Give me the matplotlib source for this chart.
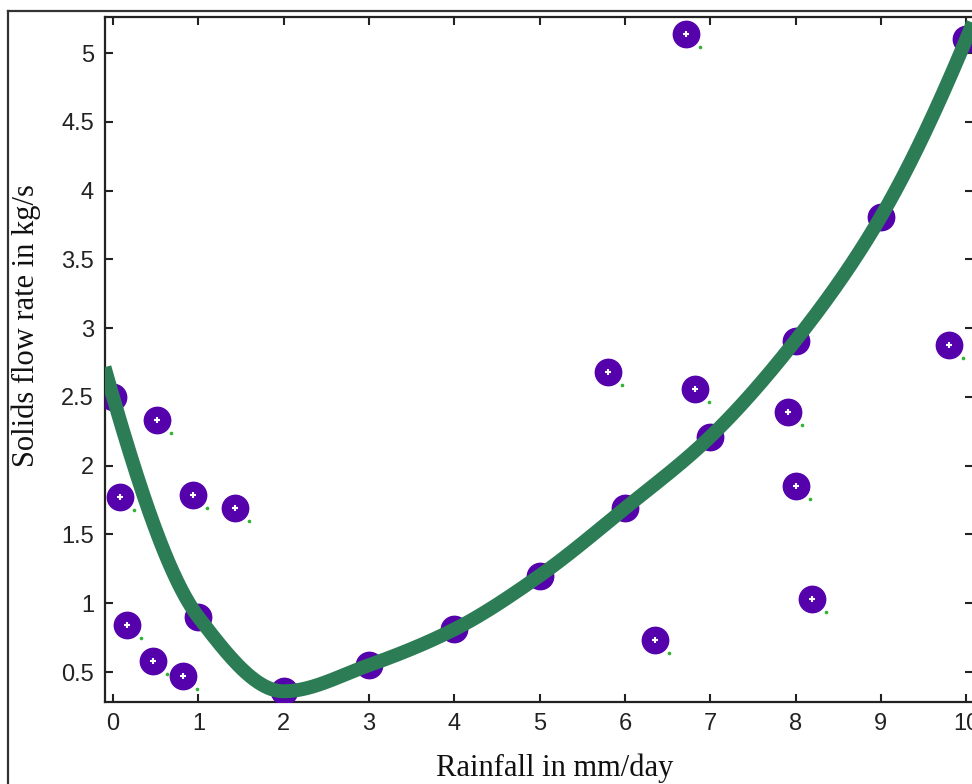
import numpy as np
import matplotlib
matplotlib.use("Agg")
import matplotlib.pyplot as plt
import matplotlib.transforms as mtransforms
from matplotlib.lines import Line2D

# ---- data ----
fit_x = [0, 1, 2, 3, 4, 5, 6, 7, 8, 9, 10]
fit_y = [2.50, 0.90, 0.36, 0.55, 0.81, 1.20, 1.69, 2.21, 2.91, 3.81, 5.10]
scatter_x = [0.08, 0.16, 0.47, 0.52, 0.82, 0.94, 1.43, 5.80, 6.35, 6.72, 6.82, 7.91, 8.01, 8.19, 9.80]
scatter_y = [1.77, 0.84, 0.58, 2.33, 0.47, 1.79, 1.69, 2.68, 0.73, 5.14, 2.56, 2.39, 1.85, 1.03, 2.88]
x_ticks = [0, 1, 2, 3, 4, 5, 6, 7, 8, 9, 10]
x_tick_labels = ["0", "1", "2", "3", "4", "5", "6", "7", "8", "9", "10"]
y_ticks = [0.5, 1, 1.5, 2, 2.5, 3, 3.5, 4, 4.5, 5]
y_tick_labels = ["0.5", "1", "1.5", "2", "2.5", "3", "3.5", "4", "4.5", "5"]


def pchip_eval(xk, yk, xs):
    """Shape-preserving piecewise cubic Hermite curve through (xk, yk)."""
    xk = np.asarray(xk, float); yk = np.asarray(yk, float)
    n = len(xk)
    h = np.diff(xk)
    delta = np.diff(yk) / h
    d = np.zeros(n)
    for k in range(1, n - 1):
        if delta[k - 1] * delta[k] <= 0:
            d[k] = 0.0
        else:
            w1 = 2 * h[k] + h[k - 1]
            w2 = h[k] + 2 * h[k - 1]
            d[k] = (w1 + w2) / (w1 / delta[k - 1] + w2 / delta[k])

    def end_slope(h0, h1, m0, m1):
        s = ((2 * h0 + h1) * m0 - h0 * m1) / (h0 + h1)
        if np.sign(s) != np.sign(m0):
            s = 0.0
        elif np.sign(m0) != np.sign(m1) and abs(s) > abs(3 * m0):
            s = 3 * m0
        return s

    d[0] = end_slope(h[0], h[1], delta[0], delta[1])
    d[-1] = end_slope(h[-1], h[-2], delta[-1], delta[-2])
    xs = np.asarray(xs, float)
    idx = np.clip(np.searchsorted(xk, xs) - 1, 0, n - 2)
    hh = h[idx]
    t = (xs - xk[idx]) / hh
    h00 = 2 * t ** 3 - 3 * t ** 2 + 1
    h10 = t ** 3 - 2 * t ** 2 + t
    h01 = -2 * t ** 3 + 3 * t ** 2
    h11 = t ** 3 - t ** 2
    return (h00 * yk[idx] + h10 * hh * d[idx] + h01 * yk[idx + 1] + h11 * hh * d[idx + 1])


W, H = 972, 784
fig = plt.figure(figsize=(W / 100, H / 100), dpi=100)
fig.patch.set_facecolor("white")

left, right, top, bottom = 105, 973, 17, 702
ax = fig.add_axes([left / W, 1 - bottom / H, (right - left) / W, (bottom - top) / H])

purple = "#5502ad"
green = "#2c7d56"

all_x = fit_x + scatter_x
all_y = fit_y + scatter_y
ax.plot(all_x, all_y, linestyle="none", marker="o", markersize=19,
        markerfacecolor=purple, markeredgecolor=purple, zorder=3)
ax.plot(scatter_x, scatter_y, linestyle="none", marker="+", markersize=5,
        markeredgecolor="white", markeredgewidth=1.5, zorder=4)
off = mtransforms.offset_copy(ax.transData, fig=fig, x=14, y=-13, units="dots")
ax.plot(scatter_x, scatter_y, linestyle="none", marker="o", markersize=1.6,
        markerfacecolor="#33b233", markeredgecolor="#33b233", transform=off, zorder=3)

xs = np.linspace(-0.1, 10.1, 800)
ax.plot(xs, pchip_eval(fit_x, fit_y, xs), color=green, linewidth=10,
        solid_capstyle="butt", zorder=5)

ax.set_xlim(-0.094, 10.08)
ax.set_ylim(0.282, 5.262)
ax.set_xticks(x_ticks)
ax.set_xticklabels(x_tick_labels)
ax.set_yticks(y_ticks)
ax.set_yticklabels(y_tick_labels)
ax.tick_params(direction="in", length=6, width=1.5, top=True, right=True,
               labelsize=17, colors="#222222", pad=8)
for lab in ax.get_xticklabels() + ax.get_yticklabels():
    lab.set_fontfamily("Liberation Sans")
for sp in ax.spines.values():
    sp.set_linewidth(1.6)
    sp.set_color("#222222")

fig.text(555 / W, 1 - 776 / H, "Rainfall in mm/day", ha="center", va="baseline",
         fontsize=22, family="Liberation Serif", color="#111111")
fig.text(26 / W, 1 - 326 / H, "Solids flow rate in kg/s", ha="center", va="center",
         rotation=90, fontsize=22, family="Liberation Serif", color="#111111")

# outer frame
fig.add_artist(Line2D([8 / W, 8 / W], [0, 1 - 11 / H], transform=fig.transFigure,
                      color="#333333", linewidth=1.6))
fig.add_artist(Line2D([8 / W, 1], [1 - 11 / H, 1 - 11 / H], transform=fig.transFigure,
                      color="#333333", linewidth=1.6))

fig.savefig("out.png", dpi=100, facecolor="white")
